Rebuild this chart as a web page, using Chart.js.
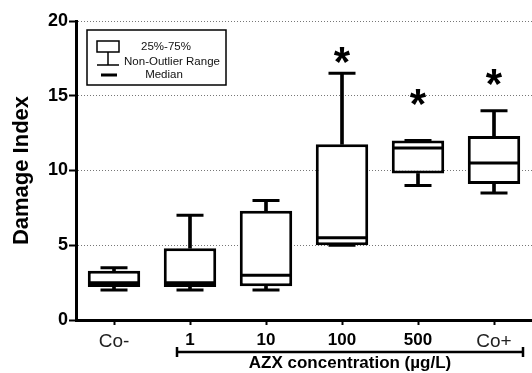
<!DOCTYPE html>
<html>
<head>
<meta charset="utf-8">
<script src="https://cdn.jsdelivr.net/npm/chart.js@4"></script>
<style>
  html, body { margin: 0; padding: 0; background: #fff; }
  #wrap { width: 532px; height: 373px; }
</style>
</head>
<body>
<div id="wrap"><canvas id="chart1"></canvas></div>
<script>
// CHART DATA
// -----------------------------
let groups = ['Co-', '1', '10', '100', '500', 'Co+'];
let minVals = [2.0, 2.0, 2.0, 5.0, 9.0, 8.5];
let q1Vals = [2.2, 2.2, 2.25, 5.0, 9.8, 9.1];
let medVals = [2.5, 2.5, 3.0, 5.5, 11.5, 10.5];
let q3Vals = [3.3, 4.8, 7.3, 11.75, 12.0, 12.3];
let maxVals = [3.5, 7.0, 8.0, 16.5, 12.0, 14.0];
// where the significance asterisks sit
let starVals = [null, null, null, 17.7, 14.85, 16.2];
let yTicks = [0, 5, 10, 15, 20];
let legendLines = ['25%-75%', 'Non-Outlier Range', 'Median'];
let xTitle = 'AZX concentration (\u00b5g/L)';
let yTitle = 'Damage Index';

const FONT = "'Liberation Sans', Arial, sans-serif";

// floating bars built from the arrays
let boxes = groups.map((g, i) => [q1Vals[i], q3Vals[i]]);
let upperStems = groups.map((g, i) => [q3Vals[i], maxVals[i]]);
let lowerStems = groups.map((g, i) => [minVals[i], q1Vals[i]]);

// extras: legend, asterisks, bracket + x title
const extras = {
  id: 'extras',
  afterDraw(chart) {
    const ctx = chart.ctx;
    const area = chart.chartArea;
    const x = chart.scales.x;
    const y = chart.scales.y;
    ctx.save();

    // asterisks
    const starSize = 42;
    ctx.fillStyle = '#000';
    ctx.font = 'bold ' + starSize + 'px ' + FONT;
    ctx.textAlign = 'center';
    ctx.textBaseline = 'alphabetic';
    starVals.forEach((v, i) => {
      if (v == null) return;
      ctx.fillText('*', x.getPixelForValue(i), y.getPixelForValue(v) + 0.48 * starSize);
    });

    // legend box
    const lx = area.left + 11, ly = area.top + 9;
    ctx.strokeStyle = '#000';
    ctx.lineWidth = 1.5;
    ctx.strokeRect(lx, ly, 139, 55);
    ctx.strokeRect(lx + 10, ly + 11, 22, 11);
    ctx.beginPath();
    ctx.moveTo(lx + 21, ly + 22);
    ctx.lineTo(lx + 21, ly + 35);
    ctx.moveTo(lx + 10, ly + 35);
    ctx.lineTo(lx + 32, ly + 35);
    ctx.stroke();
    ctx.lineWidth = 3;
    ctx.beginPath();
    ctx.moveTo(lx + 14, ly + 45);
    ctx.lineTo(lx + 30, ly + 45);
    ctx.stroke();
    ctx.font = '11.5px ' + FONT;
    ctx.textBaseline = 'middle';
    ctx.fillStyle = '#111';
    ctx.fillText(legendLines[0], lx + 79, ly + 17);
    ctx.fillText(legendLines[1], lx + 85, ly + 32);
    ctx.fillText(legendLines[2], lx + 77, ly + 45);

    // bracket under the AZX groups
    const bx1 = x.getPixelForValue(1) - 13;
    const bx2 = area.right - 9;
    const by = area.bottom + 32;
    ctx.strokeStyle = '#000';
    ctx.lineWidth = 2.5;
    ctx.beginPath();
    ctx.moveTo(bx1, by);
    ctx.lineTo(bx2, by);
    ctx.moveTo(bx1, by - 5);
    ctx.lineTo(bx1, by + 5);
    ctx.moveTo(bx2, by - 5);
    ctx.lineTo(bx2, by + 5);
    ctx.stroke();
    ctx.fillStyle = '#000';
    ctx.font = 'bold 17px ' + FONT;
    ctx.textBaseline = 'middle';
    ctx.fillText(xTitle, (bx1 + bx2) / 2, by + 11);
    ctx.restore();
  }
};

// CHART CONFIG
// -----------------------------
let chart1Data = {
  type: 'bar',
  data: {
    labels: groups,
    datasets: [
      {
        label: 'upper',
        data: upperStems,
        backgroundColor: '#000',
        borderWidth: 0,
        barThickness: 3,
        grouped: false,
        order: 3,
      },
      {
        label: 'lower',
        data: lowerStems,
        backgroundColor: '#000',
        borderWidth: 0,
        barThickness: 3,
        grouped: false,
        order: 3,
      },
      {
        label: 'box',
        data: boxes,
        backgroundColor: '#fff',
        borderColor: '#000',
        borderWidth: 3,
        borderSkipped: false,
        barPercentage: 0.69,
        categoryPercentage: 1,
        grouped: false,
        order: 2,
      },
      {
        type: 'line',
        label: 'median',
        data: medVals,
        showLine: false,
        pointStyle: 'line',
        pointRadius: 25,
        pointHoverRadius: 25,
        pointBorderWidth: 3,
        pointBorderColor: '#000',
        order: 1,
      },
      {
        type: 'line',
        label: 'max',
        data: maxVals,
        showLine: false,
        pointStyle: 'line',
        pointRadius: 13.5,
        pointHoverRadius: 13.5,
        pointBorderWidth: 3,
        pointBorderColor: '#000',
        order: 1,
      },
      {
        type: 'line',
        label: 'min',
        data: minVals,
        showLine: false,
        pointStyle: 'line',
        pointRadius: 13.5,
        pointHoverRadius: 13.5,
        pointBorderWidth: 3,
        pointBorderColor: '#000',
        order: 1,
      },
    ],
  },
  options: {
    responsive: true,
    maintainAspectRatio: false,
    animation: false,
    events: [],
    layout: { autoPadding: false, padding: { top: 21, right: 0, left: 0, bottom: 0 } },
    plugins: {
      legend: { display: false },
      tooltip: { enabled: false },
    },
    scales: {
      x: {
        offset: true,
        afterFit(scale) {
          scale.height = 53;
          scale.paddingLeft = 0;
          scale.paddingRight = 0;
        },
        grid: {
          offset: false,
          drawOnChartArea: false,
          drawTicks: true,
          tickLength: 5,
          tickColor: '#000',
          tickWidth: 2,
        },
        border: { color: '#000', width: 3 },
        ticks: {
          padding: 5,
          color: (c) => (c.index === 0 || c.index === 5 ? '#222' : '#000'),
          font: (c) => (c.index === 0 || c.index === 5
            ? { family: FONT, size: 19, weight: 'normal' }
            : { family: FONT, size: 17, weight: 'bold' }),
        },
      },
      y: {
        min: 0,
        max: 20,
        afterFit(scale) {
          scale.width = 76;
          scale.paddingTop = 0;
          scale.paddingBottom = 0;
        },
        afterBuildTicks(scale) { scale.ticks = yTicks.map(v => ({ value: v })); },
        grid: {
          color: (c) => (c.tick && c.tick.value === 0 ? 'rgba(0,0,0,0)' : '#777'),
          lineWidth: 1,
          tickColor: '#000',
          tickWidth: 2,
          tickLength: 7,
          tickBorderDash: [],
        },
        border: { color: '#000', width: 3, dash: [1, 2] },
        ticks: {
          padding: 1,
          color: '#000',
          font: { family: FONT, size: 18, weight: 'bold' },
        },
        title: {
          display: true,
          text: yTitle,
          color: '#000',
          padding: { top: 9, bottom: 0 },
          font: { family: FONT, size: 22, weight: 'bold' },
        },
      },
    },
  },
  plugins: [extras],
};

// RENDER CHART
// -----------------------------
new Chart(document.getElementById('chart1'), chart1Data);
</script>
</body>
</html>
